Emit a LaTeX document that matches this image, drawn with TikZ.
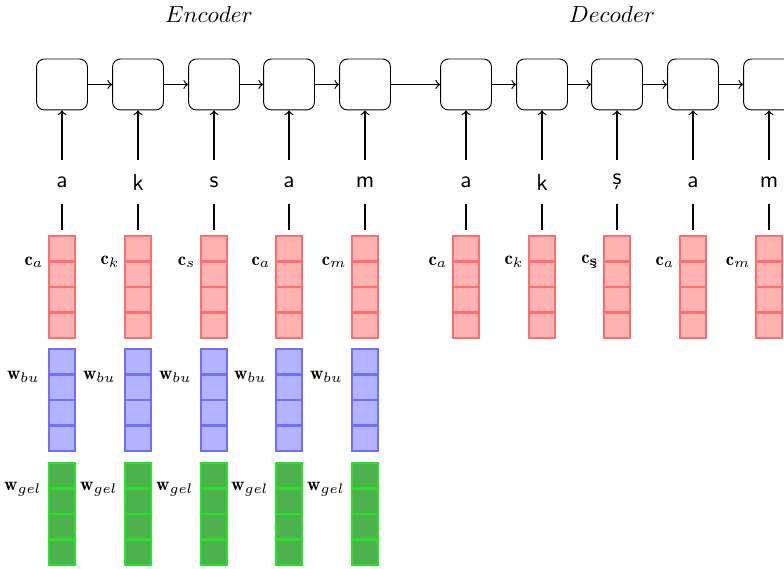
\documentclass[tikz,border=0pt]{standalone}
\usepackage{amsmath}
\usepackage{fontspec}
\usetikzlibrary{positioning}
\definecolor{cfill}{RGB}{255,179,179}
\definecolor{cdraw}{RGB}{255,110,110}
\definecolor{bfill}{RGB}{179,179,255}
\definecolor{bdraw}{RGB}{110,110,255}
\definecolor{gfill}{RGB}{76,176,76}
\definecolor{gdraw}{RGB}{40,225,40}
\begin{document}
\begin{tikzpicture}[x=0.43pt,y=-0.43pt,
  rnn/.style={draw,rounded corners=3.4pt,minimum width=21.9pt,minimum height=21.9pt,inner sep=0pt},
  chr/.style={font=\sffamily,minimum height=18.9pt,inner sep=0pt},
  cell/.style={minimum width=11.2pt,minimum height=10.965pt,inner sep=0pt,outer sep=0pt},
  ccell/.style={cell,fill=cfill},
  bcell/.style={cell,fill=bfill},
  gcell/.style={cell,fill=gfill},
  cbord/.style={draw=cdraw,line width=1.1pt},
  bbord/.style={draw=bdraw,line width=1.1pt},
  gbord/.style={draw=gdraw,line width=1.1pt},
  vlab/.style={anchor=east,inner sep=0pt,font=\footnotesize},
  con/.style={line width=0.5pt},
  title/.style={inner sep=0pt}]
\clip (0,0) rectangle (784,568);
\useasboundingbox (0,0) rectangle (784,568);

\node[title] (enc) at (209,14) {$Encoder$};
\node[title] (dec) at (612,14) {$Decoder$};

% encoder
\foreach \i/\x/\ch/\sub in {1/62/a/a,2/138/k/k,3/214/s/s,4/289/a/a,5/365/m/m}{
  \node[rnn] (e\i) at (\x,84.5) {};
  \node[chr] (le\i) at (\x,182) {\ch};
  \draw[con,->] (le\i) -- (e\i);
  \foreach \j/\dy in {1/0,2/25.5,3/51,4/76.5}{
    \node[ccell] (ce\i-\j) at (\x,248.75+\dy) {};
    \node[bcell] (be\i-\j) at (\x,361.75+\dy) {};
    \node[gcell] (ge\i-\j) at (\x,475.75+\dy) {};
  }
  \draw[cbord] (ce\i-1.north west) rectangle (ce\i-4.south east)
    (ce\i-1.south west) -- (ce\i-1.south east)
    (ce\i-2.south west) -- (ce\i-2.south east)
    (ce\i-3.south west) -- (ce\i-3.south east);
  \draw[bbord] (be\i-1.north west) rectangle (be\i-4.south east)
    (be\i-1.south west) -- (be\i-1.south east)
    (be\i-2.south west) -- (be\i-2.south east)
    (be\i-3.south west) -- (be\i-3.south east);
  \draw[gbord] (ge\i-1.north west) rectangle (ge\i-4.south east)
    (ge\i-1.south west) -- (ge\i-1.south east)
    (ge\i-2.south west) -- (ge\i-2.south east)
    (ge\i-3.south west) -- (ge\i-3.south east);
  \draw[con,shorten >=2.6pt] (le\i) -- (ce\i-1);
  \node[vlab] (lc\i) at (\x-18,262) {$\mathbf{c}_{\sub}$};
  \node[vlab] (lb\i) at (\x-22,377) {$\mathbf{w}_{bu}$};
  \node[vlab] (lg\i) at (\x-20,489) {$\mathbf{w}_{gel}$};
}
% decoder
\foreach \i/\x/\ch/\sub in {1/466/a/a,2/542/k/k,3/617/ş/{\text{\bfseries ş}},4/693/a/a,5/769/m/m}{
  \node[rnn] (d\i) at (\x,84.5) {};
  \node[chr] (ld\i) at (\x,182) {\ch};
  \draw[con,->] (ld\i) -- (d\i);
  \foreach \j/\dy in {1/0,2/25.5,3/51,4/76.5}{
    \node[ccell] (cd\i-\j) at (\x,248.75+\dy) {};
  }
  \draw[cbord] (cd\i-1.north west) rectangle (cd\i-4.south east)
    (cd\i-1.south west) -- (cd\i-1.south east)
    (cd\i-2.south west) -- (cd\i-2.south east)
    (cd\i-3.south west) -- (cd\i-3.south east);
  \draw[con,shorten >=2.6pt] (ld\i) -- (cd\i-1);
  \node[vlab] (ldc\i) at (\x-18,262) {$\mathbf{c}_{\sub}$};
}
\draw[con,->] (e1) -- (e2);
\draw[con,->] (e2) -- (e3);
\draw[con,->] (e3) -- (e4);
\draw[con,->] (e4) -- (e5);
\draw[con,->] (e5) -- (d1);
\draw[con,->] (d1) -- (d2);
\draw[con,->] (d2) -- (d3);
\draw[con,->] (d3) -- (d4);
\draw[con,->] (d4) -- (d5);
\end{tikzpicture}
\end{document}
